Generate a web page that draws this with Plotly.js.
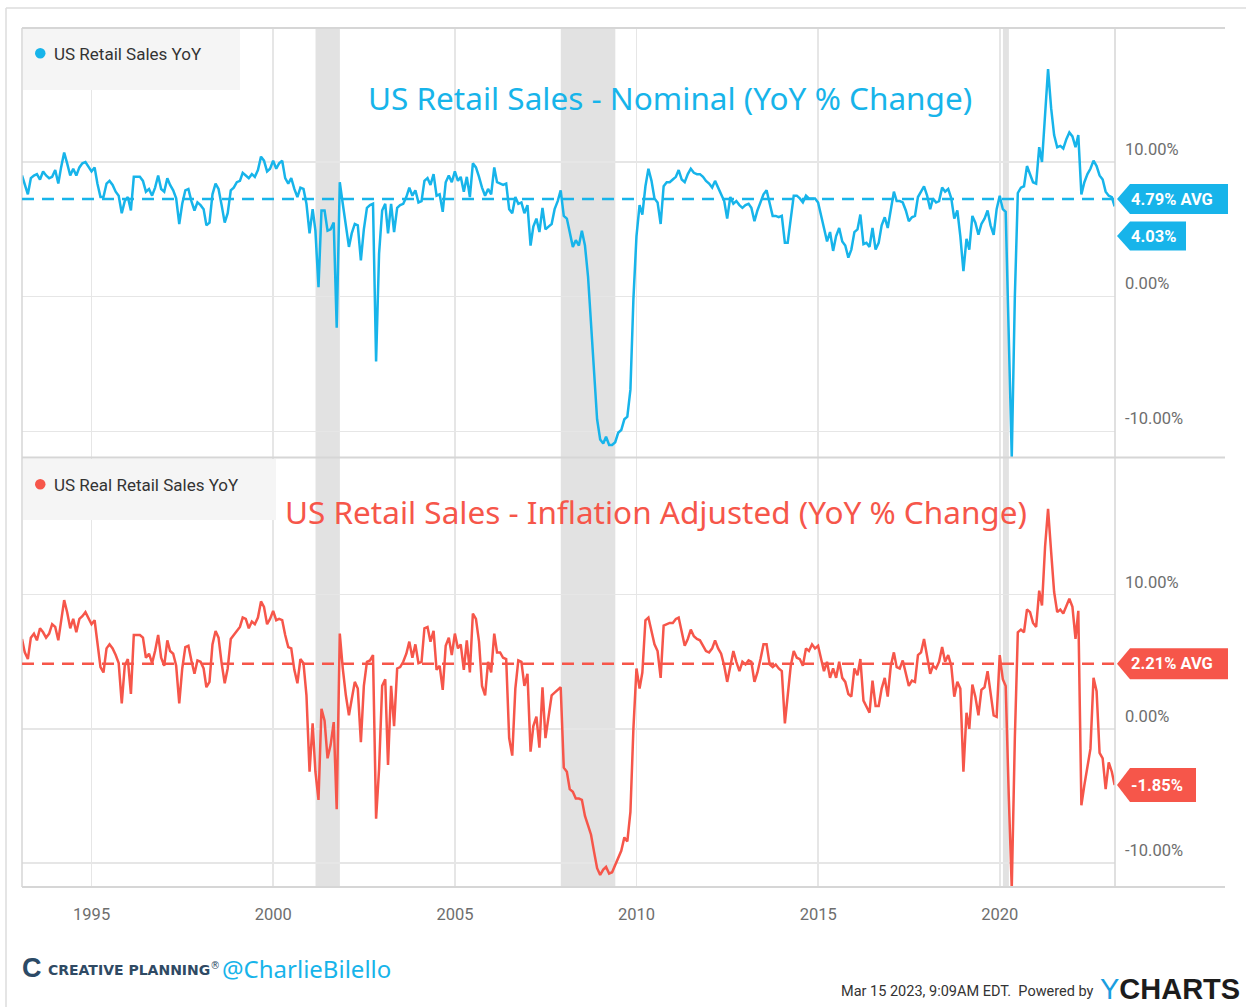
<!DOCTYPE html>
<html>
<head>
<meta charset="utf-8">
<script src="https://cdn.plot.ly/plotly-3.0.1.min.js"></script>
<style>html,body{margin:0;padding:0;background:#fff;}#chart{width:1252px;height:1007px;}</style>
</head>
<body>
<div id="chart"></div>
<script>
// ---------- DATA (monthly, Jan 1993 .. Feb 2023) ----------
const startYear = 1993;
const nominalYoY = [
 9.0, 8.3, 7.6, 8.8, 9.0, 9.1, 8.7, 9.3, 9.0, 8.8, 8.9, 9.4,
 8.4, 9.6, 10.7, 9.9, 9.0, 9.5, 9.0, 9.6, 9.9, 10.0, 9.7, 9.3,
 9.6, 8.4, 7.4, 7.4, 8.4, 8.6, 8.3, 7.8, 7.5, 6.2, 7.1, 7.4,
 6.4, 8.9, 8.9, 8.9, 8.6, 7.8, 8.0, 7.5, 8.1, 9.0, 8.0, 7.8,
 8.8, 8.3, 7.9, 7.3, 5.4, 6.9, 7.9, 8.0, 7.1, 6.4, 7.0, 6.8,
 6.5, 5.3, 5.5, 7.6, 8.4, 8.0, 6.8, 5.5, 6.2, 7.9, 8.1, 8.5,
 8.6, 9.2, 9.0, 8.8, 9.1, 8.9, 9.4, 10.4, 10.1, 9.3, 9.5, 10.1,
 9.5, 9.9, 10.1, 8.8, 8.4, 8.8, 8.0, 7.4, 8.1, 8.0, 6.9, 4.7,
 6.5, 4.9, 0.7, 6.4, 6.4, 4.9, 5.0, 5.5, -2.3, 8.5, 6.9, 5.2,
 3.7, 4.7, 5.4, 5.3, 2.7, 5.0, 6.6, 6.8, 6.9, -4.8, 3.2, 6.4,
 6.9, 4.7, 6.9, 4.8, 6.6, 6.8, 6.9, 7.4, 8.1, 7.5, 7.9, 7.0,
 7.1, 8.6, 8.8, 8.3, 9.1, 7.5, 7.6, 6.3, 8.5, 9.0, 8.5, 9.3,
 8.6, 8.9, 7.8, 8.9, 7.4, 9.9, 9.6, 8.9, 8.1, 7.5, 8.0, 7.6,
 9.6, 8.5, 8.4, 8.3, 8.4, 6.5, 6.2, 7.4, 6.9, 7.0, 6.2, 6.8,
 3.8, 5.2, 5.8, 4.8, 6.6, 5.0, 5.2, 5.4, 6.5, 7.1, 7.9, 6.0,
 5.8, 4.8, 3.7, 4.2, 3.8, 4.9, 3.8, 1.5, -2.2, -5.9, -9.1, -10.6,
 -10.9, -10.4, -11.0, -11.0, -10.8, -10.1, -9.9, -9.1, -8.9, -6.9, -0.2, 4.5,
 6.8, 6.1, 8.2, 9.5, 8.6, 7.3, 7.0, 5.4, 8.2, 8.5, 8.5, 8.7,
 8.9, 9.4, 8.7, 8.5, 9.1, 9.5, 9.2, 9.1, 9.1, 8.9, 8.6, 8.4,
 8.1, 8.6, 8.1, 7.6, 7.1, 5.8, 7.4, 6.9, 7.1, 6.8, 6.6, 6.8,
 6.9, 6.6, 5.6, 6.4, 7.0, 7.6, 7.9, 6.8, 6.0, 6.0, 5.9, 6.0,
 4.0, 4.0, 6.0, 7.5, 7.5, 7.3, 7.0, 7.5, 7.3, 7.3, 7.3, 7.0,
 5.9, 5.1, 4.1, 4.8, 3.4, 4.5, 5.1, 4.1, 3.8, 2.9, 3.5, 4.8,
 5.0, 6.1, 3.9, 4.0, 3.7, 5.1, 3.5, 4.0, 5.3, 5.9, 5.1, 6.5,
 7.8, 7.1, 7.1, 7.0, 6.4, 5.6, 5.9, 6.0, 7.4, 7.8, 8.2, 7.5,
 6.5, 7.3, 7.0, 7.1, 8.1, 7.8, 8.0, 7.3, 5.8, 6.4, 4.5, 1.9,
 4.3, 3.5, 6.0, 5.5, 4.6, 5.4, 5.8, 6.4, 5.3, 4.6, 6.5, 7.5,
 6.5, 6.3, -3.5, -11.9, 0.0, 7.7, 8.1, 8.2, 9.7, 9.1, 8.5, 8.4,
 11.1, 10.0, 14.0, 16.9, 14.0, 12.0, 11.1, 11.2, 11.0, 11.7, 12.2, 11.9,
 11.1, 12.0, 7.6, 8.5, 9.1, 9.5, 10.1, 9.7, 9.0, 8.7, 7.8, 7.5,
 7.4, 6.7
];
const realYoY = [
 6.7, 5.7, 5.2, 6.8, 7.1, 6.6, 7.5, 7.2, 6.8, 7.1, 7.8, 7.6,
 6.6, 8.2, 9.6, 8.7, 7.5, 8.2, 7.2, 8.2, 8.4, 8.7, 8.2, 7.8,
 8.1, 6.5, 4.6, 4.2, 6.0, 6.3, 6.0, 5.5, 4.9, 1.9, 4.7, 5.2,
 2.6, 7.0, 7.0, 7.0, 6.8, 5.3, 5.6, 4.9, 5.8, 7.0, 5.3, 4.7,
 6.6, 5.8, 5.6, 4.7, 1.9, 4.5, 6.1, 6.2, 5.1, 4.1, 5.1, 5.0,
 4.5, 3.1, 3.5, 6.3, 7.3, 6.8, 4.9, 3.4, 4.5, 6.7, 7.0, 7.3,
 7.6, 8.3, 8.2, 7.5, 8.0, 7.8, 8.3, 9.5, 9.1, 7.8, 8.2, 8.8,
 8.1, 8.2, 8.1, 7.0, 6.1, 6.0, 4.4, 3.4, 5.2, 4.9, 2.5, -3.2,
 0.4, -3.2, -5.3, 1.5, 0.6, -2.2, -1.2, 0.5, -6.0, 7.1, 4.5, 2.5,
 1.0, 2.2, 3.5, 3.0, -1.0, 3.2, 5.0, 5.1, 5.5, -6.7, -3.0, 3.2,
 3.7, -2.7, 3.2, 0.2, 4.5, 4.6, 5.0, 5.6, 6.5, 5.3, 6.3, 4.9,
 5.0, 7.5, 7.6, 6.5, 7.3, 4.4, 4.7, 2.9, 6.2, 6.8, 5.5, 7.1,
 6.0, 6.3, 4.4, 6.6, 4.2, 8.6, 8.2, 6.5, 3.2, 2.5, 5.0, 4.2,
 7.1, 5.7, 5.7, 5.3, 5.2, -0.7, -2.0, 3.0, 5.1, 5.0, 3.2, 4.1,
 -1.7, 0.2, 0.9, -1.4, 3.1, -0.7, 1.0, 2.5, 2.7, 2.9, 3.1, -2.9,
 -3.2, -4.5, -4.7, -5.2, -5.2, -5.3, -6.5, -7.2, -7.9, -9.2, -10.4, -10.9,
 -10.5, -10.3, -10.8, -10.7, -10.2, -9.7, -9.1, -8.1, -8.4, -6.2, 0.0, 4.5,
 3.0, 4.2, 8.1, 8.3, 7.4, 6.3, 5.8, 3.8, 7.7, 7.8, 7.9, 7.9,
 8.2, 8.3, 7.2, 6.2, 6.7, 7.4, 6.9, 6.7, 6.6, 6.2, 5.8, 5.7,
 6.0, 6.6, 6.0, 5.6, 4.7, 3.5, 4.7, 5.8, 5.0, 4.3, 5.0, 4.8,
 5.1, 5.0, 3.5, 4.2, 5.2, 6.3, 6.3, 4.8, 4.6, 4.8, 4.5, 4.3,
 0.4, 2.5, 4.7, 5.8, 5.3, 5.2, 4.7, 6.0, 5.8, 6.3, 6.0, 6.2,
 5.3, 4.3, 5.0, 3.8, 4.5, 3.8, 5.0, 3.8, 3.5, 2.6, 2.4, 4.5,
 4.0, 5.2, 2.1, 1.7, 1.2, 3.6, 1.7, 1.7, 3.0, 3.8, 2.4, 4.7,
 5.7, 4.6, 4.5, 5.1, 4.2, 3.2, 3.6, 3.5, 5.5, 5.7, 6.7, 5.5,
 4.1, 4.7, 4.5, 5.0, 6.1, 5.0, 5.5, 4.7, 2.4, 3.5, 3.0, -3.2,
 1.2, 0.0, 3.3, 2.4, 1.0, 2.9, 3.1, 4.3, 2.5, 1.0, 0.9, 5.5,
 3.7, 3.2, -5.0, -11.9, -0.7, 7.2, 7.4, 7.2, 8.9, 8.7, 7.9, 7.6,
 10.3, 9.2, 13.6, 16.4, 13.2, 10.2, 8.7, 8.9, 8.6, 9.2, 9.7, 9.1,
 6.7, 8.8, -5.7, -4.2, -2.7, -1.5, 3.8, 2.8, -1.8, -2.2, -4.5, -2.5,
 -3.2, -4.2
];
const nominalAvgLevel = 7.25, nominalAvgText = '4.79% AVG';
const nominalLastLevel = 4.5, nominalLastText = '4.03%';
const realAvgLevel = 4.85, realAvgText = '2.21% AVG';
const realLastLevel = -4.2, realLastText = '-1.85%';
const recessions = [['2001-03-01','2001-11-01'],['2007-12-01','2009-06-01'],['2020-02-01','2020-04-01']];
const yTickVals = [-10, 0, 10];
const yTickText = ['-10.00%', '0.00%', '10.00%'];
const nominalName = 'US Retail Sales YoY';
const realName = 'US Real Retail Sales YoY';
const nominalTitle = 'US Retail Sales - Nominal (YoY % Change)';
const realTitle = 'US Retail Sales - Inflation Adjusted (YoY % Change)';

// ---------- helpers ----------
const W = 1252, H = 1007;
const px = x => x / W, py = y => 1 - y / H;
function monthEnd(i){
  const y = startYear + Math.floor(i/12), m = i % 12 + 1;
  const d = new Date(Date.UTC(y, m, 0));
  return d.toISOString().slice(0,10);
}
const dates = nominalYoY.map((_, i) => monthEnd(i));
const BLUE = '#17b4ea', RED = '#f6564a';
const NARROW = 'Roboto, sans-serif';
const HAND = 'Noto Sans, Open Sans, sans-serif';
const xDom = [px(22), px(1115)];
const topDom = [py(457), py(28)];
const botDom = [py(887), py(458)];

const traces = [
  {x: dates, y: nominalYoY, xaxis:'x', yaxis:'y', type:'scatter', mode:'lines',
   line:{color:BLUE, width:2.5}, name:nominalName, hoverinfo:'skip'},
  {x: dates, y: realYoY, xaxis:'x2', yaxis:'y2', type:'scatter', mode:'lines',
   line:{color:RED, width:2.5}, name:realName, hoverinfo:'skip'}
];

const xCommon = {
  domain: xDom, type:'date', range:['1993-01-31','2023-03-04'],
  tick0:'1995-01-01', dtick:'M60', showgrid:true, gridcolor:'#e6e6e6', gridwidth:1.5,
  zeroline:false, showline:false, ticks:'', fixedrange:true
};
const yCommon = {
  side:'right', tickvals:yTickVals, ticktext:yTickText, showgrid:true, gridcolor:'#e6e6e6',
  gridwidth:1.5, zeroline:false, showline:false, ticks:'', ticklabelshift:-13, ticklabelstandoff:9,
  tickfont:{family:NARROW, size:16.5, color:'#6e6e6e'}, fixedrange:true
};

const shapes = [];
// recession bands
recessions.forEach(r => shapes.push({type:'rect', xref:'x', yref:'paper', x0:r[0], x1:r[1],
  y0:botDom[0], y1:topDom[1], fillcolor:'#e2e2e2', line:{width:0}, layer:'below'}));
// frame lines
const gray = '#d6d6d6';
[[6,8,1246,8],[6,8,6,1007]].forEach(l => shapes.push({type:'line', xref:'paper', yref:'paper',
  x0:px(l[0]), y0:py(l[1]), x1:px(l[2]), y1:py(l[3]), line:{color:'#dcdcdc', width:1.5}}));
[28, 457.5, 887].forEach(y => shapes.push({type:'line', xref:'paper', yref:'paper',
  x0:px(22), x1:px(1225), y0:py(y), y1:py(y), line:{color:gray, width:2}}));
[22, 1115].forEach(x => shapes.push({type:'line', xref:'paper', yref:'paper',
  x0:px(x), x1:px(x), y0:py(887), y1:py(28), line:{color:gray, width:1.5}}));
// legend boxes
shapes.push({type:'rect', xref:'paper', yref:'paper', x0:px(23), x1:px(240), y0:py(90), y1:py(29),
  fillcolor:'#f5f5f5', line:{width:0}});
shapes.push({type:'rect', xref:'paper', yref:'paper', x0:px(23), x1:px(276), y0:py(520), y1:py(459),
  fillcolor:'#f5f5f5', line:{width:0}});
shapes.push({type:'circle', xref:'paper', yref:'paper', x0:px(35), x1:px(45.5), y0:py(58.5), y1:py(48),
  fillcolor:BLUE, line:{width:0}});
shapes.push({type:'circle', xref:'paper', yref:'paper', x0:px(35), x1:px(45.5), y0:py(489.5), y1:py(479),
  fillcolor:RED, line:{width:0}});
// average lines
shapes.push({type:'line', xref:'paper', yref:'y', x0:xDom[0], x1:xDom[1], y0:nominalAvgLevel, y1:nominalAvgLevel,
  line:{color:BLUE, width:2.5, dash:'12px,8px'}});
shapes.push({type:'line', xref:'paper', yref:'y2', x0:xDom[0], x1:xDom[1], y0:realAvgLevel, y1:realAvgLevel,
  line:{color:RED, width:2.5, dash:'12px,8px'}});
// value tags
function tag(yref, level, w, h, color){
  shapes.push({type:'path', xref:'paper', yref:yref, xsizemode:'pixel', ysizemode:'pixel',
    xanchor:xDom[1], yanchor:level,
    path:`M 2,0 L 15,${-h} L ${w},${-h} L ${w},${h} L 15,${h} Z`,
    fillcolor:color, line:{width:0}});
}
tag('y', nominalAvgLevel, 113, 15, BLUE);
tag('y', nominalLastLevel, 71, 14.5, BLUE);
tag('y2', realAvgLevel, 113, 15.5, RED);
tag('y2', realLastLevel, 81, 17, RED);

const tagFont = {family:NARROW, size:16.5, color:'#ffffff'};
const annotations = [
  {xref:'paper', yref:'y', x:px(1129), y:nominalAvgLevel, xanchor:'left', yanchor:'middle', showarrow:false, text:'<b>'+nominalAvgText+'</b>', font:tagFont},
  {xref:'paper', yref:'y', x:px(1129), y:nominalLastLevel, xanchor:'left', yanchor:'middle', showarrow:false, text:'<b>'+nominalLastText+'</b>', font:tagFont},
  {xref:'paper', yref:'y2', x:px(1129), y:realAvgLevel, xanchor:'left', yanchor:'middle', showarrow:false, text:'<b>'+realAvgText+'</b>', font:tagFont},
  {xref:'paper', yref:'y2', x:px(1129), y:realLastLevel, xanchor:'left', yanchor:'middle', showarrow:false, text:'<b>'+realLastText+'</b>', font:tagFont},
  // legends
  {xref:'paper', yref:'paper', x:px(52), y:py(54), xanchor:'left', yanchor:'middle', showarrow:false, text:nominalName, font:{family:NARROW, size:17, color:'#333333'}},
  {xref:'paper', yref:'paper', x:px(52), y:py(485), xanchor:'left', yanchor:'middle', showarrow:false, text:realName, font:{family:NARROW, size:17, color:'#333333'}},
  // titles
  {xref:'paper', yref:'paper', x:px(670), y:py(97), xanchor:'center', yanchor:'middle', showarrow:false, text:nominalTitle, font:{family:HAND, size:31.5, color:BLUE}},
  {xref:'paper', yref:'paper', x:px(656), y:py(511), xanchor:'center', yanchor:'middle', showarrow:false, text:realTitle, font:{family:HAND, size:31.5, color:RED}},
  // footer
  {xref:'paper', yref:'paper', x:px(20), y:py(968), xanchor:'left', yanchor:'middle', showarrow:false, text:'<b>C</b>', font:{family:'Liberation Sans, sans-serif', size:27, color:'#2c4a66'}},
  {xref:'paper', yref:'paper', x:px(46), y:py(969), xanchor:'left', yanchor:'middle', showarrow:false, text:'<b>CREATIVE PLANNING</b><sup>®</sup>', font:{family:'DejaVu Sans, sans-serif', size:14, color:'#2f4a64'}},
  {xref:'paper', yref:'paper', x:px(220), y:py(968), xanchor:'left', yanchor:'middle', showarrow:false, text:'@CharlieBilello', font:{family:HAND, size:24, color:BLUE}},
  {xref:'paper', yref:'paper', x:px(1096), y:py(991), xanchor:'right', yanchor:'middle', showarrow:false, text:'Mar 15 2023, 9:09AM EDT.  Powered by', font:{family:NARROW, size:14.5, color:'#333333'}},
  {xref:'paper', yref:'paper', x:px(1098), y:py(989), xanchor:'left', yanchor:'middle', showarrow:false, text:'<span style="color:#1a9ee0">Y</span><b>CHARTS</b>', font:{family:'Liberation Sans, sans-serif', size:29, color:'#1c1c1c'}}
];

const layout = {
  width:W, height:H, margin:{l:0, r:0, t:0, b:0}, paper_bgcolor:'#ffffff', plot_bgcolor:'#ffffff',
  showlegend:false, hovermode:false,
  xaxis: Object.assign({}, xCommon, {anchor:'y', showticklabels:false}),
  xaxis2: Object.assign({}, xCommon, {anchor:'y2', showticklabels:true, tickformat:'%Y', ticklabelstandoff:15,
    tickfont:{family:NARROW, size:16.5, color:'#6e6e6e'}}),
  yaxis: Object.assign({}, yCommon, {domain:topDom, anchor:'x', range:[-11.9, 19.95]}),
  yaxis2: Object.assign({}, yCommon, {domain:botDom, anchor:'x2', range:[-11.8, 20.2]}),
  shapes: shapes, annotations: annotations
};
Plotly.newPlot('chart', traces, layout, {staticPlot:true, displayModeBar:false});
</script>
</body>
</html>
